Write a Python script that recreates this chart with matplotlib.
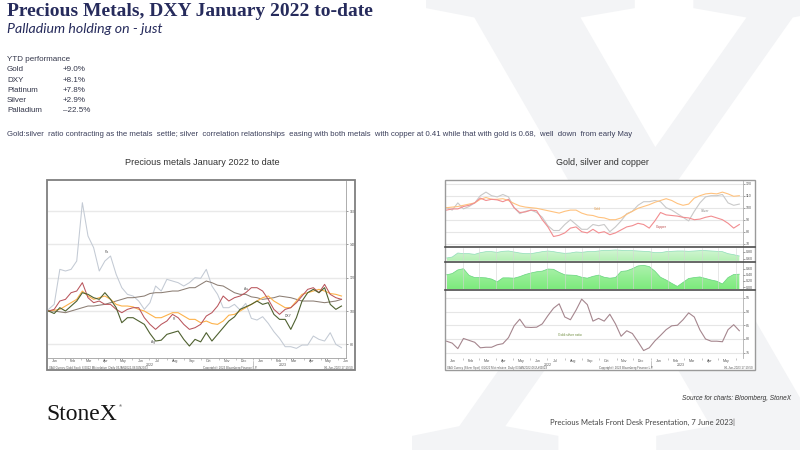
import numpy as np
import pandas as pd
import matplotlib
matplotlib.use('Agg')
import matplotlib.pyplot as plt
import matplotlib.dates as mdates
from matplotlib.patches import Rectangle, PathPatch
from matplotlib.textpath import TextPath
from matplotlib.font_manager import FontProperties
from matplotlib.transforms import Affine2D, blended_transform_factory
from matplotlib.colors import LinearSegmentedColormap

# ---------------- data ----------------
dates = pd.date_range('2022-01-03', periods=53, freq='10D')

# left chart: rebased to 100 (Jan 2022)
palladium = [101, 104, 125, 124, 125, 130, 165, 145, 138, 124, 130, 133, 122, 114, 110, 109, 106, 101, 105, 115,
             112, 119, 118, 117, 115, 117, 120, 119.6, 125, 115, 110, 102, 102, 104, 100.6, 104.6, 95.6, 94.6, 96.6, 92.6,
             87.6, 83.6, 78.6, 78.6, 77.6, 79.6, 79.6, 85, 83, 82, 87, 80, 78]
gold = [100, 100.5, 101, 103, 105, 107, 112, 109, 107, 108, 109, 107, 104, 103, 103, 102.5, 101, 100, 98, 96,
        96, 97.5, 99, 99, 97, 95, 95, 93, 94, 92.5, 92, 94, 97.5, 98, 100, 102, 104, 106, 108, 109,
        106, 104, 102, 102, 106, 110, 111, 112, 113, 112, 110.5, 110, 109]
silver = [100, 98.5, 102, 100, 103, 106, 111, 110, 108, 107, 111, 107, 102, 93, 96, 96, 94, 92, 86.5, 82,
          82.5, 86, 87, 88, 83, 79, 83, 81.5, 87, 82, 86, 90, 94, 96.5, 101, 102.5, 104, 106, 104, 105,
          98, 95, 95, 89, 96, 106, 111, 113, 111, 114, 104, 101, 103]
platinum = [100, 101, 106, 107, 111, 112, 117, 108, 105, 106, 104, 104, 101, 99, 101, 102, 102, 96, 92, 89,
            92, 94, 98, 96, 92, 89, 90, 92, 97, 99, 103, 109, 106, 108, 109, 111, 114, 114, 112, 107,
            101, 98, 101, 102, 105, 109, 113, 114, 111, 116, 110, 108, 107]
dxy = [100, 100, 99.5, 99, 100, 101, 102, 103, 103, 103.5, 104, 105, 106, 107, 108, 108, 108.5, 109, 110.5, 111,
       111, 111.5, 112, 112, 113, 114, 114, 116, 118, 117, 115.5, 115, 113, 111, 110, 110, 108.5, 108, 107, 107.5,
       108, 109, 108.5, 108, 107, 106, 106, 106, 105.5, 105, 105.5, 106, 107]

# right chart, panel 1 (rebased)
gold_r = [100, 100.5, 101, 102, 103, 104, 107, 108.5, 107, 107, 107.5, 106, 103.5, 101.5, 100.5, 100, 99.5, 98.5, 97.5, 96.5,
          95.5, 97, 98, 98, 95.5, 94, 93.5, 92, 91.5, 90, 90, 91.5, 94.5, 97, 99.5, 101, 102.5, 104.5, 106, 107.5,
          106, 103.5, 102, 103, 108, 110, 111.5, 112, 111.5, 113, 111.5, 109.5, 110]
silver_r = [100, 98, 104, 99, 101, 104, 110, 113, 110, 109, 111, 109, 100, 95, 97, 98, 96, 92, 85, 81,
            81, 86, 90, 86, 82, 82, 86, 85, 86, 80, 84, 89, 95, 97, 102, 105, 105, 106, 105, 100,
            98, 95, 92, 89, 97, 104, 109, 110, 110, 111, 104, 102, 103]
copper_r = [98, 99, 99, 101, 102, 104, 108, 106, 107, 106.5, 105, 107, 100, 96, 96.5, 98, 97.5, 90, 84, 76,
            77, 79, 83, 84, 80, 79, 82, 79, 80, 77.5, 79, 81.5, 84, 85, 87, 86, 83, 89, 96, 94,
            93.5, 93, 92, 91.5, 90, 90.5, 92, 93, 91.5, 90, 87, 83, 86]
# panel 2: silver/gold correlation, panel 3: silver/copper correlation
corr_gold = [0.62, 0.65, 0.77, 0.75, 0.75, 0.73, 0.78, 0.81, 0.81, 0.79, 0.82, 0.83, 0.80, 0.77, 0.75, 0.75, 0.78, 0.81, 0.83, 0.81,
             0.78, 0.76, 0.77, 0.80, 0.79, 0.81, 0.81, 0.83, 0.85, 0.85, 0.86, 0.85, 0.84, 0.84, 0.83, 0.82, 0.81, 0.78, 0.78, 0.81,
             0.82, 0.83, 0.83, 0.82, 0.83, 0.84, 0.84, 0.83, 0.82, 0.81, 0.75, 0.72, 0.68]
corr_copper = [0.40, 0.44, 0.56, 0.60, 0.38, 0.31, 0.31, 0.30, 0.26, 0.17, 0.30, 0.30, 0.29, 0.34, 0.41, 0.46, 0.50, 0.52, 0.59, 0.58,
               0.48, 0.40, 0.39, 0.38, 0.32, 0.29, 0.35, 0.39, 0.32, 0.29, 0.31, 0.51, 0.53, 0.60, 0.69, 0.71, 0.67, 0.52, 0.32, 0.23,
               0.12, 0.02, 0.15, 0.28, 0.31, 0.33, 0.28, 0.23, 0.19, 0.10, 0.31, 0.41, 0.42]
# panel 4: gold/silver ratio
ratio = [79.2, 78.5, 76.5, 80.2, 79.5, 78.8, 76.8, 77, 77, 77.9, 78.3, 80.5, 84.8, 87.2, 84.3, 84.2, 84.3, 85.5, 88.5, 91.2,
         92.8, 88, 87, 90.5, 94.5, 92.5, 86.5, 87.5, 86.5, 89, 85.5, 81, 83, 82, 79, 75.8, 76.8, 79.3, 81.3, 83.4,
         84.8, 85, 87, 89.5, 88, 83.3, 80, 79.2, 79.2, 79, 83.4, 85.2, 83]

ytd_names = ['Gold', 'DXY', 'Platinum', 'Silver', 'Palladium']
ytd_values = ['+9.0%', '+8.1%', '+7.8%', '+2.9%', '\u201322.5%']

title = 'Precious Metals, DXY January 2022 to-date'
subtitle = 'Palladium holding on - just'
comment = ('Gold:silver  ratio contracting as the metals  settle; silver  correlation relationships  easing with both metals  '
           'with copper at 0.41 while that with gold is 0.68,  well  down  from early May')

# ---------------- figure ----------------
plt.rcParams['font.family'] = ['Liberation Sans', 'DejaVu Sans']
W, H = 800, 450
fig = plt.figure(figsize=(W / 100, H / 100), dpi=100)
fig.patch.set_facecolor('white')


def box(x0, y0, x1, y1):
    return [x0 / W, 1 - y1 / H, (x1 - x0) / W, (y1 - y0) / H]


def ftext(x, y, s, **kw):
    return fig.text(x / W, 1 - y / H, s, **kw)


def frect(x0, y0, x1, y1, **kw):
    r = Rectangle((x0 / W, 1 - y1 / H), (x1 - x0) / W, (y1 - y0) / H, transform=fig.transFigure, **kw)
    fig.add_artist(r)
    return r


def hline(x0, x1, y, **kw):
    fig.add_artist(plt.Line2D([x0 / W, x1 / W], [1 - y / H, 1 - y / H], transform=fig.transFigure, **kw))


# watermark X
tp = TextPath((0, 0), 'X', size=1, prop=FontProperties(family='Liberation Serif', weight='bold'))
bb = tp.get_extents()
tx0, tx1, ty0, ty1 = 412, 865, -18, 462
tr = (Affine2D().translate(-bb.x0, -bb.y0)
      .scale((tx1 - tx0) / bb.width / W, (ty1 - ty0) / bb.height / H)
      .translate(tx0 / W, 1 - ty1 / H)) + fig.transFigure
fig.add_artist(PathPatch(tp, transform=tr, facecolor='#F3F4F6', edgecolor='none', zorder=-5))

# header texts
navy = '#262B5C'
ftext(7, 15.5, title, fontsize=14, fontweight='bold', family=['Liberation Serif', 'DejaVu Serif'],
      color=navy, va='baseline')
ftext(7, 33, subtitle, fontsize=10.2, style='italic', family=['Lato', 'Open Sans', 'DejaVu Sans'],
      color=navy, va='baseline')
body = '#33364A'
ftext(7, 58.5, 'YTD performance', fontsize=5.8, color=body, va='center_baseline')
for yy, n, v in zip([68.5, 79, 89, 100, 110], ytd_names, ytd_values):
    ftext(7, yy, n, fontsize=5.8, color=body, va='center_baseline')
    ftext(63, yy, v, fontsize=5.8, color=body, va='center_baseline')
ftext(7, 134, comment, fontsize=5.62, color='#3A3E5A', va='center_baseline')
ftext(202, 161.5, 'Precious metals January 2022 to date', fontsize=6.6, color='#333333', ha='center',
      va='center_baseline')
ftext(602, 161.5, 'Gold, silver and copper', fontsize=6.5, color='#333333', ha='center', va='center_baseline')
ftext(791, 397, 'Source for charts: Bloomberg, StoneX', fontsize=4.7, style='italic', color='#333333',
      ha='right', va='center_baseline')
ftext(550, 422, 'Precious Metals Front Desk Presentation, 7 June 2023|', fontsize=5.5,
      family=['Lato', 'Open Sans', 'DejaVu Sans'], color='#444444', va='center_baseline')
ftext(46, 420, 'StoneX', fontsize=17, family=['Liberation Serif', 'DejaVu Serif'], color='#151515', va='baseline')
ftext(118.5, 407, '\u00ae', fontsize=3, color='#151515', va='baseline')

tick_kw = dict(labelsize=2.6, colors='#555555')
x_start = pd.Timestamp('2022-01-02')
x_end_l = pd.Timestamp('2023-06-15')
x_end_r = pd.Timestamp('2023-06-13')


def style_x(ax, show_labels):
    ax.xaxis.set_major_locator(mdates.MonthLocator(bymonthday=15))
    ax.xaxis.set_major_formatter(mdates.DateFormatter('%b'))
    ax.xaxis.set_minor_locator(mdates.MonthLocator())
    ax.tick_params(axis='x', which='major', length=0, pad=1.0, labelbottom=show_labels, **tick_kw)
    ax.tick_params(axis='x', which='minor', length=1.3 if show_labels else 0, width=0.4, color='#999999')


def year_marks(ax, px_h):
    bt = blended_transform_factory(ax.transData, ax.transAxes)
    for d, s in [('2022-07-01', '2022'), ('2023-02-23', '2023')]:
        ax.text(pd.Timestamp(d), -6.8 / px_h, s, transform=bt, fontsize=2.6, color='#555555',
                ha='center', va='center')
    ax.plot([pd.Timestamp('2023-01-01')] * 2, [-3 / px_h, -9 / px_h], transform=bt, color='#999999',
            lw=0.4, clip_on=False)


# ---------------- left chart ----------------
frect(47, 180, 355, 370, facecolor='white', edgecolor='none', zorder=-1)
frect(47, 180, 355, 370, fill=False, edgecolor='#7F7F7F', lw=1.3, zorder=5)
axl = fig.add_axes(box(48, 181, 346, 357.7))
axl.set_facecolor('white')
for s in ['top', 'left']:
    axl.spines[s].set_visible(False)
for s in ['right', 'bottom']:
    axl.spines[s].set_color('#A0A0A0')
    axl.spines[s].set_linewidth(0.6)
axl.yaxis.tick_right()
axl.set_yticks([80, 100, 120, 140, 160])
axl.tick_params(axis='y', length=1.5, width=0.4, pad=1, **tick_kw)
axl.grid(axis='y', color='#E9E9E9', lw=1.0)
axl.set_axisbelow(True)
axl.plot(dates, palladium, color='#C3CAD4', lw=0.75)
axl.plot(dates, dxy, color='#8C7E74', lw=0.75)
axl.plot(dates, gold, color='#FDB24A', lw=0.8)
axl.plot(dates, platinum, color='#B9555C', lw=0.75)
axl.plot(dates, silver, color='#4F6130', lw=0.8)
for s, d, v in [('Pa', '2022-04-17', 135.4), ('Pt', '2022-08-15', 95.2), ('Ag', '2022-07-08', 81.4),
                ('Au', '2022-12-19', 113.2), ('DXY', '2023-03-05', 97)]:
    axl.text(pd.Timestamp(d), v, s, fontsize=2.4, color='#555555', ha='center', va='center')
axl.set_xlim(x_start, x_end_l)
axl.set_ylim(72, 178)
style_x(axl, True)
year_marks(axl, 176.7)
ftext(49, 368.3, 'XAU Curncy (Gold Spot)  6/2022 Mkt relative  Daily 03JAN2022-06JUN2023', fontsize=2.1,
      color='#555555', va='center')
ftext(230, 368.3, 'Copyright\u00a9 2023 Bloomberg Finance L.P.', fontsize=2.1, color='#555555', ha='center',
      va='center')
ftext(353, 368.3, '06-Jun-2023 17:19:50', fontsize=2.1, color='#555555', ha='right', va='center')

# ---------------- right chart ----------------
frect(445, 180, 755, 370, facecolor='white', edgecolor='none', zorder=-1)
frect(445, 180, 755, 370, fill=False, edgecolor='#9A9A9A', lw=1.0, zorder=5)
panels = [(181, 246.5, (67.67, 122.25), [70, 80, 90, 100, 110, 120], ['70', '80', '90', '100', '110', '120']),
          (247.8, 260.8, (0.537, 0.925), [0.6, 0.8], ['0.60', '0.80']),
          (262.2, 289.2, (-0.072, 0.813), [0.0, 0.2, 0.4, 0.6], ['0.00', '0.20', '0.40', '0.60']),
          (290.6, 357.7, (73.2, 97.6), [75, 80, 85, 90, 95], ['75', '80', '85', '90', '95'])]
axes_r = []
for i, (y0, y1, yl, ticks, labels) in enumerate(panels):
    a = fig.add_axes(box(446, y0, 742.7, y1))
    a.set_facecolor('white')
    for s in ['top', 'left', 'bottom']:
        a.spines[s].set_visible(False)
    a.spines['right'].set_color('#B0B0B0')
    a.spines['right'].set_linewidth(0.6)
    a.yaxis.tick_right()
    a.set_yticks(ticks)
    a.set_yticklabels(labels)
    a.tick_params(axis='y', length=1.3, width=0.4, pad=1, **tick_kw)
    a.set_axisbelow(True)
    axes_r.append(a)
a1, a2, a3, a4 = axes_r
a1.grid(axis='y', color='#E6E6E6', lw=0.8)
a4.grid(axis='y', color='#E6E6E6', lw=0.8)

a1.plot(dates, silver_r, color='#C9C9C9', lw=0.8)
a1.plot(dates, gold_r, color='#FFC27E', lw=0.8)
a1.plot(dates, copper_r, color='#F28D90', lw=0.8)
a1.text(pd.Timestamp('2022-09-28'), 99.2, 'Gold', fontsize=2.4, color='#E8A050', ha='center', va='center')
a1.text(pd.Timestamp('2023-04-07'), 97.0, 'Silver', fontsize=2.4, color='#888888', ha='center', va='center')
a1.text(pd.Timestamp('2023-01-20'), 84.0, 'Copper', fontsize=2.4, color='#C05050', ha='center', va='center')


def grad_fill(ax, yvals, base, top, ctop, cbot, cedge):
    poly = ax.fill_between(dates, base, yvals, facecolor='none', edgecolor='none')
    xn = mdates.date2num(dates)
    cmap = LinearSegmentedColormap.from_list('g', [ctop, cbot])
    im = ax.imshow(np.linspace(0, 1, 128)[:, None], cmap=cmap, aspect='auto', origin='upper',
                   extent=[xn[0], xn[-1], base, top], zorder=1, interpolation='bilinear')
    im.set_clip_path(poly.get_paths()[0], transform=ax.transData)
    ax.plot(dates, yvals, color=cedge, lw=0.5, zorder=2)


grad_fill(a2, corr_gold, 0.537, 0.925, '#D6F7D8', '#B4F0B4', '#8EDDB8')
grad_fill(a3, corr_copper, -0.072, 0.813, '#B4F2B4', '#7CEB7C', '#66D47E')
for a in (a2, a3):
    a.set_axisbelow(False)
    a.grid(axis='x', which='minor', color='#D5D5D5', lw=0.4)

a4.plot(dates, ratio, color='#A5868E', lw=0.8)
a4.text(pd.Timestamp('2022-08-10'), 81.5, 'Gold:silver ratio', fontsize=2.4, color='#6B8A3A',
        ha='center', va='center')

for (y0, y1, yl, ticks, labels), a in zip(panels, axes_r):
    a.set_xlim(x_start, x_end_r)
    a.set_ylim(*yl)
for a in (a1, a2, a3):
    style_x(a, False)
style_x(a4, True)
year_marks(a4, 67.1)

for yy in (247.1, 261.5, 289.9):
    hline(445, 755, yy, color='#4D4D4D', lw=1.2, zorder=6)

ftext(447, 368.3, 'XAG Curncy (Silver Spot)  6/2022 Mkt relative  Daily 03JAN2022-06JUN2023', fontsize=2.1,
      color='#555555', va='center')
ftext(626, 368.3, 'Copyright\u00a9 2023 Bloomberg Finance L.P.', fontsize=2.1, color='#555555', ha='center',
      va='center')
ftext(753, 368.3, '06-Jun-2023 17:19:50', fontsize=2.1, color='#555555', ha='right', va='center')

fig.savefig('out.png', dpi=100, facecolor='white')
